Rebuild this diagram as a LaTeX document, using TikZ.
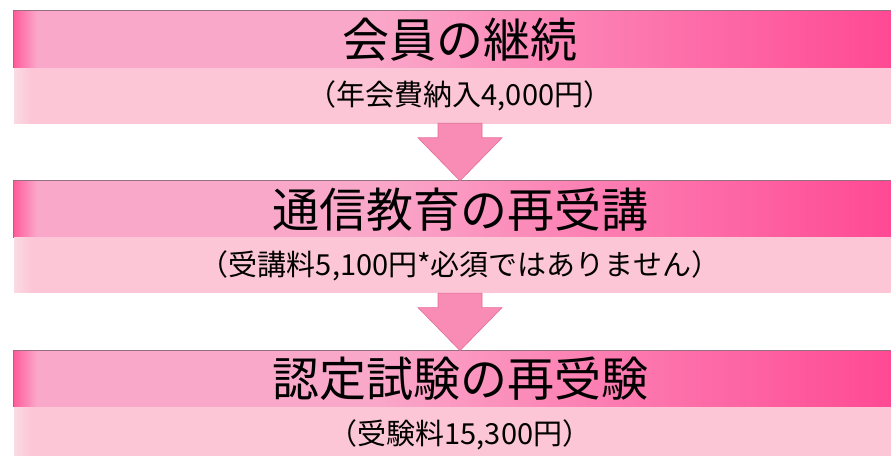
\documentclass[tikz,border=0pt]{standalone}
\usepackage{fontspec}
\setmainfont{Noto Sans CJK JP}
\usepackage{tikz}
\usetikzlibrary{positioning,calc}
\definecolor{barmid}{RGB}{250,168,202}
\definecolor{bardark}{RGB}{255,70,146}
\definecolor{barleft}{RGB}{255,92,156}
\definecolor{subpink}{RGB}{252,198,214}
\definecolor{subleft}{RGB}{250,218,228}
\definecolor{arrowfill}{RGB}{248,140,180}
\definecolor{arrowline}{RGB}{228,108,152}
\definecolor{edgegray}{RGB}{150,112,126}
\pgfdeclarehorizontalshading{titleshade}{100bp}{color(0bp)=(barleft); color(25bp)=(barleft); color(26.3bp)=(barmid); color(45bp)=(barmid); color(75bp)=(bardark); color(100bp)=(bardark)}
\pgfdeclarehorizontalshading{subshade}{100bp}{color(0bp)=(subleft); color(25bp)=(subleft); color(26bp)=(subpink); color(100bp)=(subpink)}
\tikzstyle{titlebar} = [shading=titleshade, minimum width=892pt, minimum height=56.5pt, inner sep=0pt, font=\fontsize{47}{50}\selectfont]
\tikzstyle{subband} = [shading=subshade, minimum width=892pt, minimum height=55pt, inner sep=0pt, font=\fontsize{29}{32}\selectfont]
\tikzstyle{downarrow} = [fill=arrowfill, draw=arrowline, line width=0.6pt, line join=miter]
\tikzstyle{baredge} = [draw=edgegray, line width=1pt]

\begin{document}
\begin{tikzpicture}
\clip (0,0) rectangle (891pt,455pt);

% Steps
\node[titlebar, anchor=north] (title1) at (460pt,444pt) {会員の継続};
\node[subband, below=0pt of title1] (sub1) {（年会費納入4,000円）};
\node[titlebar, below=57.5pt of sub1] (title2) {通信教育の再受講};
\node[subband, below=0pt of title2] (sub2) {（受講料5,100円*必須ではありません）};
\node[titlebar, below=57.5pt of sub2] (title3) {認定試験の再受験};
\node[subband, below=0pt of title3] (sub3) {（受験料15,300円）};

% Bar edges
\foreach \t in {title1,title2,title3}
  \draw[baredge] (\t.south west) -- (\t.north west) -- (\t.north east);

% Arrows
\foreach \a/\b in {sub1/title2,sub2/title3}
  \draw[downarrow] ($(\a.south)+(-22pt,0)$) -- ++(0,-14.5pt) -- ++(-20pt,0) -- (\b.north)
    -- ($(\a.south)+(42pt,-14.5pt)$) -- ++(-20pt,0) -- ++(0,14.5pt) -- cycle;
\end{tikzpicture}
\end{document}
